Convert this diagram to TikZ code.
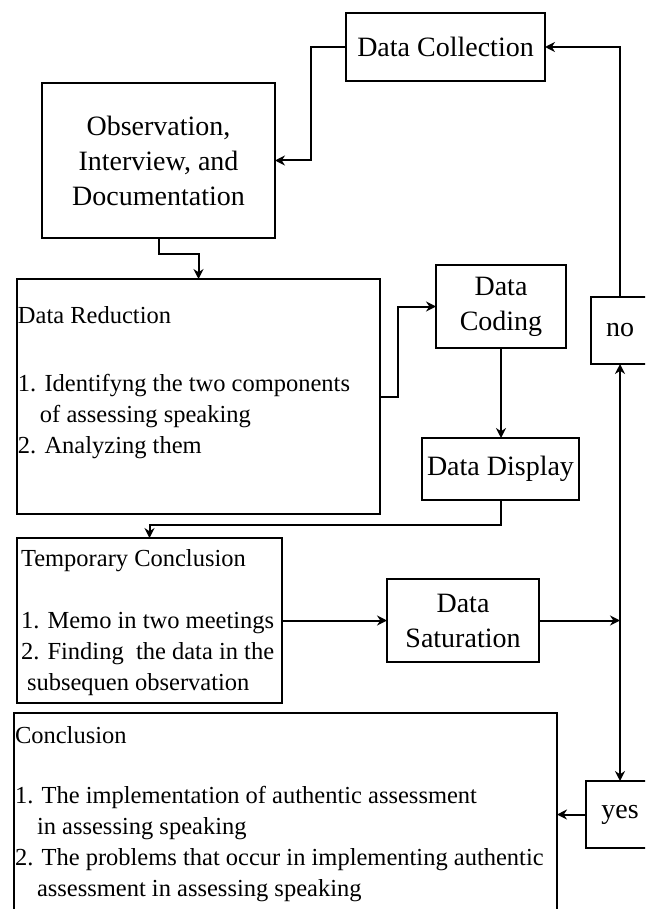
\documentclass[tikz,border=0pt]{standalone}
\usepackage{fontspec}
\setmainfont{Liberation Serif}
\usetikzlibrary{arrows.meta,positioning}

\begin{document}
\begin{tikzpicture}[
    x=0.5pt, y=-0.5pt,
    box/.style={draw, line width=1pt, inner sep=0pt, outer sep=0pt, align=center, font=\fontsize{14}{17.5}\selectfont},
    frame/.style={draw, line width=1pt, inner sep=0pt, outer sep=0pt},
    list/.style={inner sep=0pt, outer sep=0pt, align=left, anchor=north west, font=\fontsize{12.25}{15.5}\selectfont},
    arrow/.style={-{Stealth[length=5pt, width=5pt]}, line width=1pt},
    biarrow/.style={{Stealth[length=5pt, width=5pt]}-{Stealth[length=5pt, width=5pt]}, line width=1pt},
]
\useasboundingbox (0,0) rectangle (645,909);
\clip (0,0) rectangle (645,909);

% ── Collection ──
\node[box, minimum width=99.5pt, minimum height=34pt] (collect) at (445.5,47) {Data Collection};
\node[box, minimum width=116.5pt, minimum height=77.5pt] (observe) at (158.5,160.5) {Observation,\\Interview, and\\Documentation};

% ── Reduction ──
\node[frame, minimum width=181.5pt, minimum height=117.5pt] (reduce) at (198.5,396.5) {};
\node[list, below right=13.5pt and 0.5pt of reduce.north west] (reducetext) {Data Reduction\\[18.5pt]1. Identifyng the two components\\\hspace{11pt}of assessing speaking\\2. Analyzing them};
\node[box, minimum width=65pt, minimum height=41.5pt] (coding) at (501,306.5) {Data\\Coding};
\node[box, minimum width=78.5pt, minimum height=31pt] (display) at (500.5,469) {Data Display};

% ── Temporary conclusion ──
\node[frame, minimum width=132.5pt, minimum height=82.5pt] (temp) at (149.5,620.5) {};
\node[list, below right=5.5pt and 2pt of temp.north west] (temptext) {Temporary Conclusion\\[15.5pt]1. Memo in two meetings\\2. Finding~ the data in the\\\hspace{3pt}subsequen observation};
\node[box, minimum width=76pt, minimum height=41.5pt] (saturate) at (463,620.5) {Data\\Saturation};

% ── Decision ──
\node[box, minimum width=29pt, minimum height=33.5pt] (no) at (620,330.5) {no};
\node[box, minimum width=34pt, minimum height=33.5pt] (yes) at (620,814.5) {yes};

% ── Conclusion ──
\node[frame, minimum width=271.5pt, minimum height=110pt] (conclude) at (285.5,823) {};
\node[list, below right=6.5pt and 0.5pt of conclude.north west] (concludetext) {Conclusion\\[14.5pt]1. The implementation of authentic assessment\\\hspace{11pt}in assessing speaking\\2. The problems that occur in implementing authentic\\\hspace{11pt}assessment in assessing speaking};

% ── Arrows ──
\draw[arrow] (no.north) |- (collect.east);
\draw[arrow] (collect.west) -- ++(-35,0) |- (observe.east);
\draw[arrow] (observe.south) -- ++(0,16) -| (reduce.north);
\draw[arrow] (reduce.east) -- ++(18,0) |- (coding.west);
\draw[arrow] (coding.south) -- (coding.south |- display.north);
\draw[arrow] (display.south) -- ++(0,25) -| (temp.north);
\draw[arrow] (temp.east) -- (saturate.west);
\draw[arrow] (saturate.east) -- (saturate.east -| no.south);
\draw[biarrow] (no.south) -- (yes.north);
\draw[arrow] (yes.west) -- (yes.west -| conclude.east);

\end{tikzpicture}
\end{document}
